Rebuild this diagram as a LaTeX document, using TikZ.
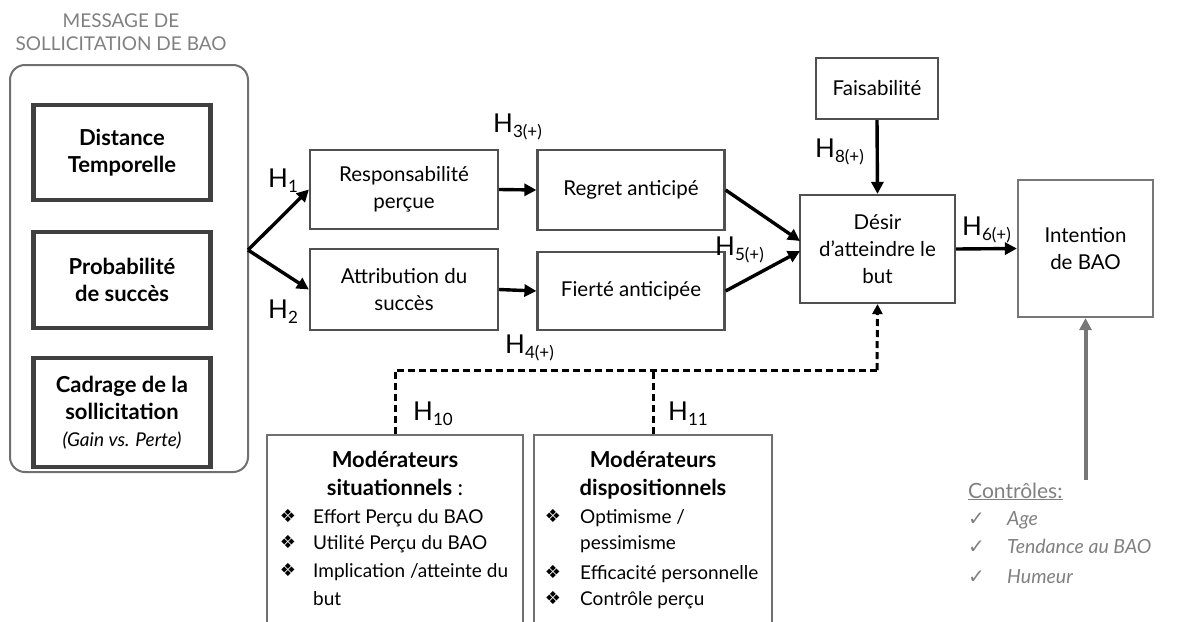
\documentclass[tikz,border=0pt]{standalone}
\usepackage{fontspec}
\setmainfont{Lato}
\newfontfamily\symfont{DejaVu Sans}
\usetikzlibrary{arrows.meta,calc}
\definecolor{boxc}{HTML}{505050}
\definecolor{darkc}{HTML}{404040}
\definecolor{outc}{HTML}{707070}
\definecolor{lightc}{HTML}{777777}
\definecolor{txtgray}{HTML}{808080}
\newcommand\hyp[1]{{\fontsize{26}{26}\selectfont H}\raisebox{-5pt}{\fontsize{17}{17}\selectfont #1}}
\begin{document}
\begin{tikzpicture}[x=1pt,y=-1pt]
\tikzset{
 bx/.style={draw=boxc, line width=2.2pt, align=center, inner sep=2pt, font=\fontsize{20.5}{27}\selectfont},
 lbx/.style={draw=darkc, line width=4.5pt, align=center, inner sep=2pt, font=\bfseries\fontsize{22}{27}\selectfont, minimum width=177pt},
 arr/.style={line width=3.4pt, -{Triangle[length=12pt,width=12pt]}},
 darr/.style={line width=3pt, dash pattern=on 7pt off 4pt, -{Triangle[length=10pt,width=10pt]}},
 dln/.style={line width=3pt, dash pattern=on 7pt off 4pt},
 garr/.style={line width=4pt, draw=lightc, -{Triangle[length=12pt,width=12pt]}},
 hl/.style={anchor=base west, inner sep=0pt},
 mt/.style={anchor=base, inner sep=0pt, font=\bfseries\fontsize{22}{24}\selectfont},
 li/.style={anchor=base west, inner sep=0pt, font=\fontsize{19}{20}\selectfont},
 bul/.style={anchor=base, inner sep=0pt, font=\symfont\fontsize{18}{18}\selectfont},
 ck/.style={anchor=base west, inner sep=0pt, text=txtgray, font=\symfont\fontsize{20}{20}\selectfont},
 ct/.style={anchor=base west, inner sep=0pt, text=txtgray, font=\itshape\fontsize{19.5}{20}\selectfont},
}
\useasboundingbox (0,0) rectangle (1177,621);
\clip (0,0) rectangle (1177,621);

% title
\node[text=txtgray, align=center, font=\fontsize{19}{23}\selectfont] (title) at (121,32) {MESSAGE DE\\SOLLICITATION DE BAO};

% left group
\node[draw=outc, line width=2pt, rounded corners=15pt, minimum width=238pt, minimum height=407pt] (msg) at (129,268.5) {};
\node[lbx, minimum height=95pt] (dist) at (122,152.5) {Distance\\Temporelle};
\node[lbx, minimum height=96pt] (prob) at (122,280) {Probabilité\\de succès};
\node[lbx, minimum height=109pt] (cad) at (122,412.5) {Cadrage de la\\sollicitation\\{\mdseries\itshape\fontsize{19}{24}\selectfont (Gain vs. Perte)}};

% middle boxes
\node[bx, minimum width=188pt, minimum height=79pt] (resp) at (404,189.5) {Responsabilité\\perçue};
\node[bx, minimum width=188pt, minimum height=81pt] (attr) at (404,289.5) {Attribution du\\succès};
\node[bx, minimum width=187pt, minimum height=80pt] (regret) at (631,190) {Regret anticipé};
\node[bx, minimum width=187pt, minimum height=78pt] (fierte) at (631,291) {Fierté anticipée};
\node[bx, minimum width=122pt, minimum height=61pt] (fais) at (877,88.5) {Faisabilité};
\node[bx, minimum width=155pt, minimum height=108pt] (desir) at (877.5,249) {Désir\\d’atteindre le\\but};
\node[bx, draw=lightc, minimum width=135pt, minimum height=137pt] (intent) at (1085.5,248.5) {Intention\\de BAO};

% moderator boxes
\node[draw=outc, line width=2.2pt, minimum width=256pt, minimum height=205pt] (modsit) at (395,537.5) {};
\node[draw=outc, line width=2.2pt, minimum width=238pt, minimum height=205pt] (moddis) at (653,537.5) {};

\node[mt] (ms1) at (395,467) {Modérateurs};
\node[mt] (ms2) at (395,495) {situationnels {\mdseries :}};
\node[bul] (bs1) at (288,522) {❖};
\node[li] (ls1) at (313,523) {Effort Perçu du BAO};
\node[bul] (bs2) at (288,548) {❖};
\node[li] (ls2) at (313,549) {Utilité Perçu du BAO};
\node[bul] (bs3) at (288,576) {❖};
\node[li] (ls3) at (313,577) {Implication /atteinte du};
\node[li] (ls4) at (313,605) {but};

\node[mt] (md1) at (653,467) {Modérateurs};
\node[mt] (md2) at (653,495) {dispositionnels};
\node[bul] (bd1) at (553,522) {❖};
\node[li] (ld1) at (580,523) {Optimisme /};
\node[li] (ld2) at (580,549) {pessimisme};
\node[bul] (bd3) at (553,578) {❖};
\node[li] (ld3) at (580,579) {Efficacité personnelle};
\node[bul] (bd4) at (553,604) {❖};
\node[li] (ld4) at (580,605) {Contrôle perçu};

% controls
\node[anchor=base west, inner sep=0pt, text=txtgray, font=\fontsize{21}{22}\selectfont] (ctl) at (968,498) {\underline{Contrôles:}};
\node[ck] (ck1) at (968,525) {✓};
\node[ct] (c1) at (1007,525) {Age};
\node[ck] (ck2) at (968,553) {✓};
\node[ct] (c2) at (1007,553) {Tendance au BAO};
\node[ck] (ck3) at (968,583) {✓};
\node[ct] (c3) at (1007,583) {Humeur};

% coordinates
\coordinate (fork) at (248,250);
\coordinate (dA) at (395,370);
\coordinate (dB) at (653,370);
\coordinate (dC) at (877,370);
\coordinate (ctrlTop) at (1085.5,480);
\coordinate (dIn1) at (800,241);
\coordinate (dIn2) at (800,251);

% arrows
\draw[arr] (fork) -- (resp.west);
\draw[arr] (fork) -- (attr.west);
\draw[arr] (resp.east) -- (regret.west);
\draw[arr] (attr.east) -- (fierte.west);
\draw[arr] (regret.east) -- (dIn1);
\draw[arr] (fierte.east) -- (dIn2);
\draw[arr] (fais.south) -- (desir.north);
\draw[arr] (desir.east) -- (intent.west);
\draw[garr] (ctrlTop) -- (intent.south);
\draw[dln] (modsit.north) -- (dA) -- (dC);
\draw[dln] (moddis.north) -- (dB);
\draw[darr] (dC) -- (desir.south);

% hypothesis labels
\node[hl] (h1) at (268,187) {\hyp{1}};
\node[hl] (h2) at (268,318) {\hyp{2}};
\node[hl] (h3) at (493,132) {\hyp{3(+)}};
\node[hl] (h4) at (505,353) {\hyp{4(+)}};
\node[hl] (h5) at (715,255) {\hyp{5(+)}};
\node[hl] (h8) at (815,157) {\hyp{8(+)}};
\node[hl] (h6) at (962,235) {\hyp{6(+)}};
\node[hl] (h10) at (413,420) {\hyp{10}};
\node[hl] (h11) at (668,420) {\hyp{11}};
\end{tikzpicture}
\end{document}
